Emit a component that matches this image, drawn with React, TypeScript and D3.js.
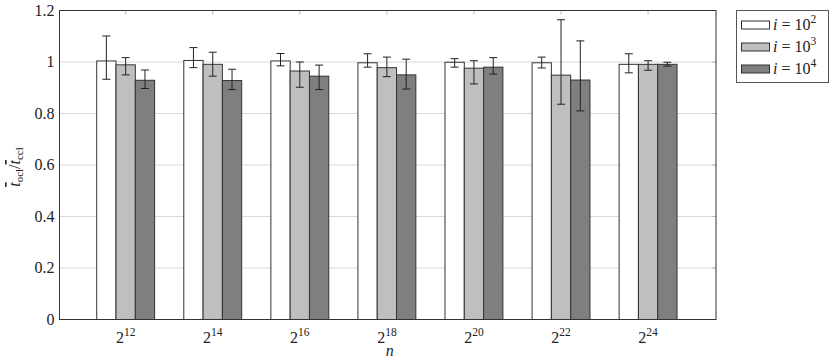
import React from 'react';
import * as d3 from 'd3';

// x categories: n = 2^k
const exponents = ['12', '14', '16', '18', '20', '22', '24'];
const seriesNames = ['2', '3', '4']; // i = 10^x
const seriesColors = ['#ffffff', '#bfbfbf', '#7f7f7f'];

// mean ratio per series
const meanI2 = [1.004, 1.006, 1.004, 0.997, 0.999, 0.997, 0.991];
const meanI3 = [0.989, 0.991, 0.965, 0.978, 0.976, 0.949, 0.991];
const meanI4 = [0.929, 0.928, 0.945, 0.950, 0.980, 0.930, 0.991];

// error bar bounds
const lowI2 = [0.933, 0.978, 0.985, 0.980, 0.980, 0.977, 0.958];
const highI2 = [1.101, 1.056, 1.033, 1.032, 1.013, 1.019, 1.032];
const lowI3 = [0.950, 0.945, 0.902, 0.943, 0.915, 0.836, 0.968];
const highI3 = [1.017, 1.038, 1.000, 1.019, 1.005, 1.164, 1.005];
const lowI4 = [0.897, 0.893, 0.893, 0.895, 0.953, 0.810, 0.984];
const highI4 = [0.969, 0.972, 0.988, 1.011, 1.017, 1.082, 0.999];

const yTicks = [0, 0.2, 0.4, 0.6, 0.8, 1, 1.2];

const means = [meanI2, meanI3, meanI4];
const lows = [lowI2, lowI3, lowI4];
const highs = [highI2, highI3, highI4];

const txt = { fontFamily: 'Liberation Serif' };

export default function App() {
  const width = 831;
  const height = 362;
  const left = 59.5;
  const right = 716;
  const top = 10.5;
  const bottom = 319.5;

  const x = d3.scaleLinear().domain([-0.76, exponents.length - 1 + 0.78]).range([left, right]);
  const y = d3.scaleLinear().domain([0, 1.2]).range([bottom, top]);
  const barW = 19.3;

  return (
    <svg width={width} height={height} style={{ position: 'absolute', left: 0, top: 0 }}>
      <rect x={0} y={0} width={width} height={height} fill="#fff" />
      {/* horizontal grid */}
      {yTicks.map((t) => (
        <line key={'g' + t} x1={left} x2={right} y1={y(t)} y2={y(t)} stroke="#d9d9d9" strokeWidth={1} />
      ))}
      {/* top ticks at categories */}
      {exponents.map((e, i) => (
        <line key={'tt' + e} x1={x(i)} x2={x(i)} y1={top} y2={top + 4} stroke="#bbb" />
      ))}
      {/* bars */}
      {means.map((series, s) =>
        series.map((v, i) => {
          const bx = x(i) - 1.5 * barW + s * barW;
          return (
            <rect
              key={`b${s}-${i}`}
              x={bx}
              y={y(v)}
              width={barW}
              height={y(0) - y(v)}
              fill={seriesColors[s]}
              stroke="#333"
              strokeWidth={1}
            />
          );
        })
      )}
      {/* error bars */}
      {means.map((series, s) =>
        series.map((v, i) => {
          const cx = x(i) - barW + s * barW;
          const lo = y(lows[s][i]);
          const hi = y(highs[s][i]);
          return (
            <g key={`e${s}-${i}`} stroke="#222" strokeWidth={1}>
              <line x1={cx} x2={cx} y1={lo} y2={hi} />
              <line x1={cx - 4} x2={cx + 4} y1={lo} y2={lo} />
              <line x1={cx - 4} x2={cx + 4} y1={hi} y2={hi} />
            </g>
          );
        })
      )}
      {/* y ticks */}
      {yTicks.map((t) => (
        <g key={'yt' + t}>
          <line x1={right - 4} x2={right} y1={y(t)} y2={y(t)} stroke="#bbb" />
          <text x={left - 5} y={y(t) + 5} textAnchor="end" fontSize={16} fill="#222" style={txt}>
            {String(t)}
          </text>
        </g>
      ))}
      {/* frame */}
      <rect x={left} y={top} width={right - left} height={bottom - top} fill="none" stroke="#333" strokeWidth={1} />
      {/* x tick labels */}
      {exponents.map((e, i) => (
        <text key={'xl' + e} x={x(i)} y={343} textAnchor="middle" fontSize={16} fill="#222" style={txt}>
          2
          <tspan fontSize={11.5} dy={-7}>
            {e}
          </tspan>
        </text>
      ))}
      <text x={(left + right) / 2 + 2} y={356} textAnchor="middle" fontSize={16} fontStyle="italic" fill="#222" style={txt}>
        n
      </text>
      {/* y label */}
      <g transform={`translate(20, ${(top + bottom) / 2 + 2}) rotate(-90)`}>
        <text textAnchor="middle" fontSize={16} fill="#222" style={txt}>
          <tspan fontStyle="italic" textDecoration="overline">t</tspan>
          <tspan fontSize={11} dy={3}>ocl</tspan>
          <tspan dy={-3}>/</tspan>
          <tspan fontStyle="italic" textDecoration="overline">t</tspan>
          <tspan fontSize={11} dy={3}>ccl</tspan>
        </text>
      </g>
      {/* legend */}
      <g>
        <rect x={736.5} y={10.5} width={92} height={72} fill="#fff" stroke="#555" />
        {seriesNames.map((p, s) => (
          <g key={'lg' + p} transform={`translate(0, ${25 + s * 22})`}>
            <rect x={741.5} y={-4} width={28} height={8} fill={seriesColors[s]} stroke="#333" />
            <text x={773} y={5} fontSize={16} fill="#222" style={txt}>
              <tspan fontStyle="italic">i</tspan> = 10
              <tspan fontSize={11.5} dy={-7}>{p}</tspan>
            </text>
          </g>
        ))}
      </g>
    </svg>
  );
}
